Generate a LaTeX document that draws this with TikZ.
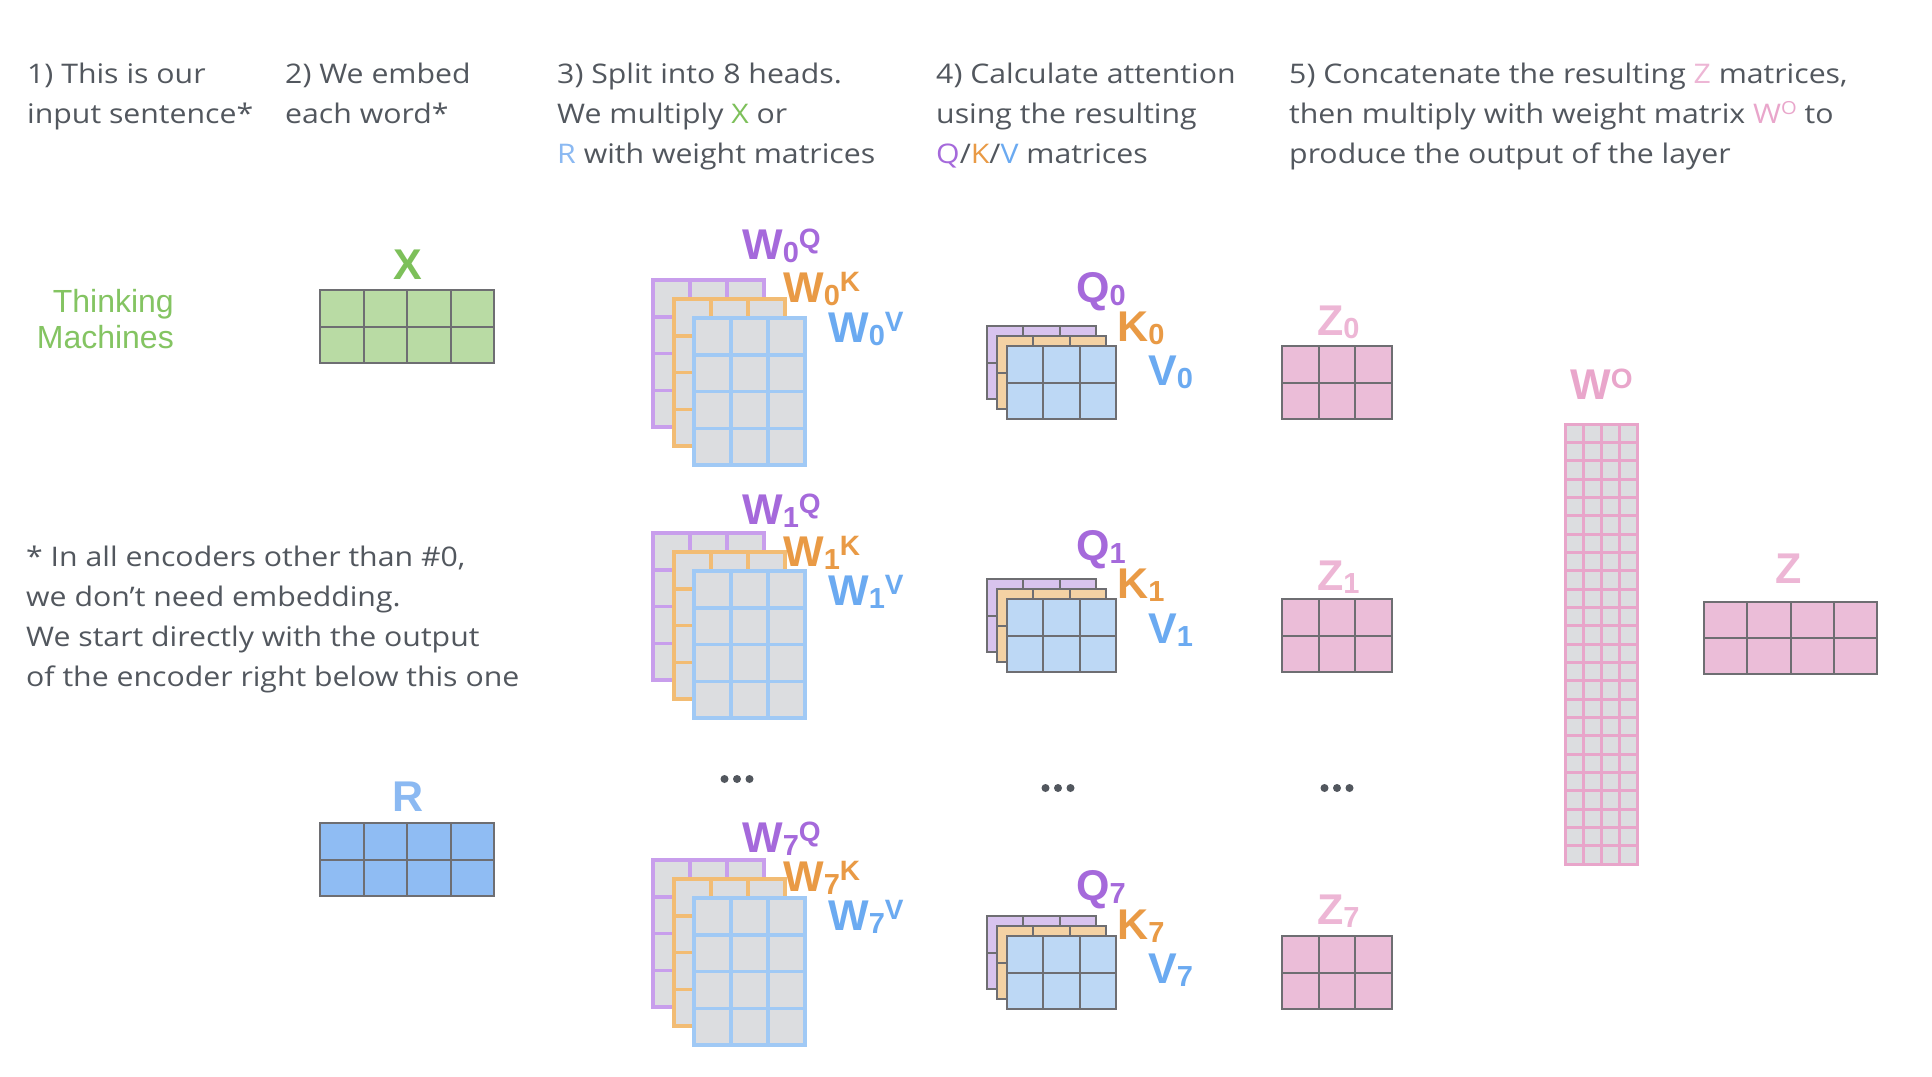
\documentclass[tikz,border=0pt]{standalone}
\usepackage{fontspec}
\setmainfont{Open Sans}[FakeStretch=1.12]
\newfontfamily\lblfont{Liberation Sans}
\usetikzlibrary{calc}
\definecolor{txtgray}{HTML}{52575E}
\definecolor{xgreen}{HTML}{7DC05A}
\definecolor{thinkgreen}{HTML}{84C462}
\definecolor{xfill}{HTML}{B9DBA4}
\definecolor{rfill}{HTML}{8FBCF3}
\definecolor{rlabel}{HTML}{8BB9F2}
\definecolor{purpL}{HTML}{A569DB}
\definecolor{orangeL}{HTML}{E99A45}
\definecolor{blueL}{HTML}{6BAAF1}
\definecolor{pinkL}{HTML}{E9A6CB}
\definecolor{zlabel}{HTML}{EDB6D5}
\definecolor{purpB}{HTML}{C89EEC}
\definecolor{orangeB}{HTML}{F2BC74}
\definecolor{blueB}{HTML}{A0C9F5}
\definecolor{wgray}{HTML}{DCDDE0}
\definecolor{qpurp}{HTML}{D8C3EE}
\definecolor{qorange}{HTML}{F4D2A4}
\definecolor{qblue}{HTML}{BDD8F5}
\definecolor{zfill}{HTML}{EBBDD8}
\definecolor{gridgray}{HTML}{6E6E72}
\definecolor{wopink}{HTML}{E8A5CA}
\tikzset{
  matbox/.style={draw, inner sep=0pt, outer sep=0pt},
  wmat/.style={fill=wgray, line width=3.5pt},
  qmat/.style={draw=gridgray, line width=2pt},
  lbl/.style={font=\lblfont\bfseries\fontsize{43}{43}\selectfont, inner sep=0pt},
  head/.style={font=\fontsize{27}{27}\selectfont, text=txtgray, inner sep=0pt, anchor=base west},
  dot/.style={circle, fill=txtgray, inner sep=0pt, minimum size=8pt},
}
% name, x, y, w, h, cols, rows, style
\newcommand{\gmat}[8]{%
  \node[matbox, #8, minimum width=#4pt, minimum height=#5pt, anchor=north west] (#1) at (#2,#3) {};
  \pgfmathtruncatemacro{\ncm}{#6-1}%
  \pgfmathtruncatemacro{\nrm}{#7-1}%
  \foreach \i in {1,...,\ncm}{\draw[#8, fill=none] ($(#1.north west)!{\i/#6}!(#1.north east)$) -- ($(#1.south west)!{\i/#6}!(#1.south east)$);}
  \foreach \j in {1,...,\nrm}{\draw[#8, fill=none] ($(#1.north west)!{\j/#7}!(#1.south west)$) -- ($(#1.north east)!{\j/#7}!(#1.south east)$);}
}
\newcommand{\lsub}[1]{\raisebox{-3pt}{\fontsize{29}{29}\selectfont #1}}
\newcommand{\lsup}[1]{\raisebox{11pt}{\fontsize{28}{28}\selectfont #1}}
% W stack: index, dy, baseline Q, baseline K, baseline V
\newcommand{\wstack}[5]{%
  \gmat{wq#1}{653}{280+#2}{111}{147}{3}{4}{wmat, draw=purpB}
  \gmat{wk#1}{674}{299+#2}{111}{147}{3}{4}{wmat, draw=orangeB}
  \gmat{wv#1}{694}{318+#2}{111}{147}{3}{4}{wmat, draw=blueB}
  \node[lbl, text=purpL, anchor=base west] (lwq#1) at (742,#3) {W\lsub{#1}\lsup{Q}};
  \node[lbl, text=orangeL, anchor=base west] (lwk#1) at (783,#4) {W\lsub{#1}\lsup{K}};
  \node[lbl, text=blueL, anchor=base west] (lwv#1) at (828,#5) {W\lsub{#1}\lsup{V}};
}
% QKV stack: index, dy, baseline Q, K, V
\newcommand{\qstack}[5]{%
  \gmat{q#1}{987}{326+#2}{109}{73}{3}{2}{qmat, fill=qpurp}
  \gmat{k#1}{997}{336+#2}{109}{73}{3}{2}{qmat, fill=qorange}
  \gmat{v#1}{1007}{346+#2}{109}{73}{3}{2}{qmat, fill=qblue}
  \node[lbl, text=purpL, anchor=base west] (lq#1) at (1076,#3) {Q\lsub{#1}};
  \node[lbl, text=orangeL, anchor=base west] (lk#1) at (1117,#4) {K\lsub{#1}};
  \node[lbl, text=blueL, anchor=base west] (lv#1) at (1148,#5) {V\lsub{#1}};
}
% Z matrix: index, top, baseline
\newcommand{\zmat}[3]{%
  \gmat{z#1}{1282}{#2}{110}{73}{3}{2}{qmat, fill=zfill}
  \node[lbl, text=zlabel, anchor=base west] (lz#1) at (1317,#3) {Z\lsub{#1}};
}
\newcommand{\threedots}[3]{%
  \node[dot] (#1a) at (#2-12.5,#3) {};
  \node[dot] (#1b) at (#2,#3) {};
  \node[dot] (#1c) at (#2+12.5,#3) {};
}
\begin{document}
\begin{tikzpicture}[x=1pt, y=-1pt]
\useasboundingbox (0,0) rectangle (1932,1076);
\fill[white] (0,0) rectangle (1932,1076);

% header
\node[head] (h1a) at (27,83) {1) This is our};
\node[head] (h1b) at (27,123) {input sentence*};
\node[head] (h2a) at (285,83) {2) We embed};
\node[head] (h2b) at (285,123) {each word*};
\node[head] (h3a) at (557,83) {3) Split into 8 heads.};
\node[head] (h3b) at (557,123) {We multiply \textcolor{xgreen}{X} or};
\node[head] (h3c) at (557,163) {\textcolor{rlabel}{R} with weight matrices};
\node[head] (h4a) at (936,83) {4) Calculate attention};
\node[head] (h4b) at (936,123) {using the resulting};
\node[head] (h4c) at (936,163) {\textcolor{purpL}{Q}/\textcolor{orangeL}{K}/\textcolor{blueL}{V} matrices};
\node[head] (h5a) at (1289,83) {5) Concatenate the resulting \textcolor{zlabel}{Z} matrices,};
\node[head] (h5b) at (1289,123) {then multiply with weight matrix \textcolor{pinkL}{W\raisebox{9pt}{\fontsize{18}{18}\selectfont O}} to};
\node[head] (h5c) at (1289,163) {produce the output of the layer};

% input words
\node[inner sep=0pt, anchor=base east, text=thinkgreen, font=\lblfont\fontsize{32}{32}\selectfont] (think) at (174,312) {Thinking};
\node[inner sep=0pt, anchor=base east, text=thinkgreen, font=\lblfont\fontsize{32}{32}\selectfont] (mach) at (174,348) {Machines};

% footnote
\node[head] (f1) at (26,566) {* In all encoders other than \#0,};
\node[head] (f2) at (26,606) {we don’t need embedding.};
\node[head] (f3) at (26,646) {We start directly with the output};
\node[head] (f4) at (26,686) {of the encoder right below this one};

% X and R
\gmat{xm}{320}{290}{174}{73}{4}{2}{qmat, fill=xfill}
\node[lbl, text=xgreen, anchor=base] (xl) at (408,279) {X};
\gmat{rm}{320}{823}{174}{73}{4}{2}{qmat, fill=rfill}
\node[lbl, text=rlabel, anchor=base] (rl) at (408,811) {R};

% weight stacks
\wstack{0}{0}{259}{302}{342}
\wstack{1}{253}{524}{566}{605}
\wstack{7}{580}{852}{891}{930}
\threedots{wd}{737}{779}

% Q K V
\qstack{0}{0}{302}{341}{385}
\qstack{1}{253}{560}{598}{643}
\qstack{7}{590}{900}{939}{983}
\threedots{qd}{1058}{788}

% Z
\zmat{0}{346}{335}
\zmat{1}{599}{590}
\zmat{7}{936}{924}
\threedots{zd}{1337}{788}

% W^O
\gmat{wo}{1565}{424}{72}{440}{4}{24}{wmat, draw=wopink, line width=3pt}
\node[lbl, text=pinkL, anchor=base west] (wol) at (1570,399) {W\lsup{O}};

% Z output
\gmat{zout}{1704}{602}{173}{72}{4}{2}{qmat, fill=zfill}
\node[lbl, text=zlabel, anchor=base] (zl) at (1789,583) {Z};
\end{tikzpicture}
\end{document}
